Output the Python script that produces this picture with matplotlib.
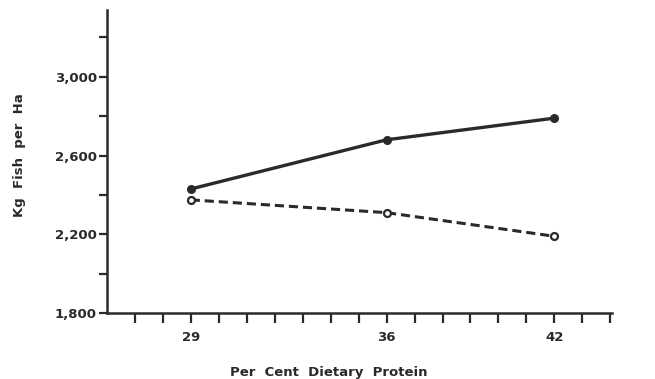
import matplotlib.pyplot as plt
from matplotlib.ticker import FixedLocator, FuncFormatter

# Data
protein = [29, 36, 42]
yield_solid = [2430, 2680, 2790]
yield_dashed = [2375, 2310, 2190]

x_ticks = list(range(27, 45))
x_labels = {29: '29', 36: '36', 42: '42'}
y_major = [1800, 2200, 2600, 3000]
y_minor = [2000, 2400, 2800, 3200]

fig = plt.figure(figsize=(6.55, 3.79), dpi=100)
ax = fig.add_axes([0.163, 0.174, 0.771, 0.80])

ax.plot(protein, yield_solid, '-', color='#2a2a2a', lw=2.4,
        marker='o', ms=5.5, mfc='#2a2a2a', mec='#2a2a2a')
ax.plot(protein, yield_dashed, '--', color='#2a2a2a', lw=2.2, dashes=(3, 1.6),
        marker='o', ms=5, mfc='white', mec='#2a2a2a', mew=1.6)

ax.set_xlim(26, 44.05)
ax.set_ylim(1800, 3340)

ax.spines['top'].set_visible(False)
ax.spines['right'].set_visible(False)
for s in ('left', 'bottom'):
    ax.spines[s].set_linewidth(1.8)
    ax.spines[s].set_color('#2a2a2a')

ax.xaxis.set_major_locator(FixedLocator(x_ticks))
ax.xaxis.set_major_formatter(FuncFormatter(lambda v, p: x_labels.get(int(round(v)), '')))
ax.yaxis.set_major_locator(FixedLocator(y_major))
ax.yaxis.set_minor_locator(FixedLocator(y_minor))
ax.yaxis.set_major_formatter(FuncFormatter(lambda v, p: f'{int(v):,}'))

ax.tick_params(axis='x', direction='out', length=7, width=1.6, color='#2a2a2a',
               labelsize=9.5, pad=6)
ax.tick_params(axis='y', which='both', direction='out', length=6, width=1.6,
               color='#2a2a2a', labelsize=9.5, pad=1)
for lab in ax.get_xticklabels() + ax.get_yticklabels():
    lab.set_fontweight('bold')
    lab.set_color('#2a2a2a')

ax.set_xlabel('Per  Cent  Dietary  Protein', fontsize=9.5, fontweight='bold',
              color='#2a2a2a', va='center')
ax.xaxis.set_label_coords(0.44, -0.195)
ax.set_ylabel('Kg  Fish  per  Ha', fontsize=9.5, fontweight='bold',
              color='#2a2a2a', va='center')
ax.yaxis.set_label_coords(-0.172, 0.52)

fig.savefig('out.png', dpi=100)
